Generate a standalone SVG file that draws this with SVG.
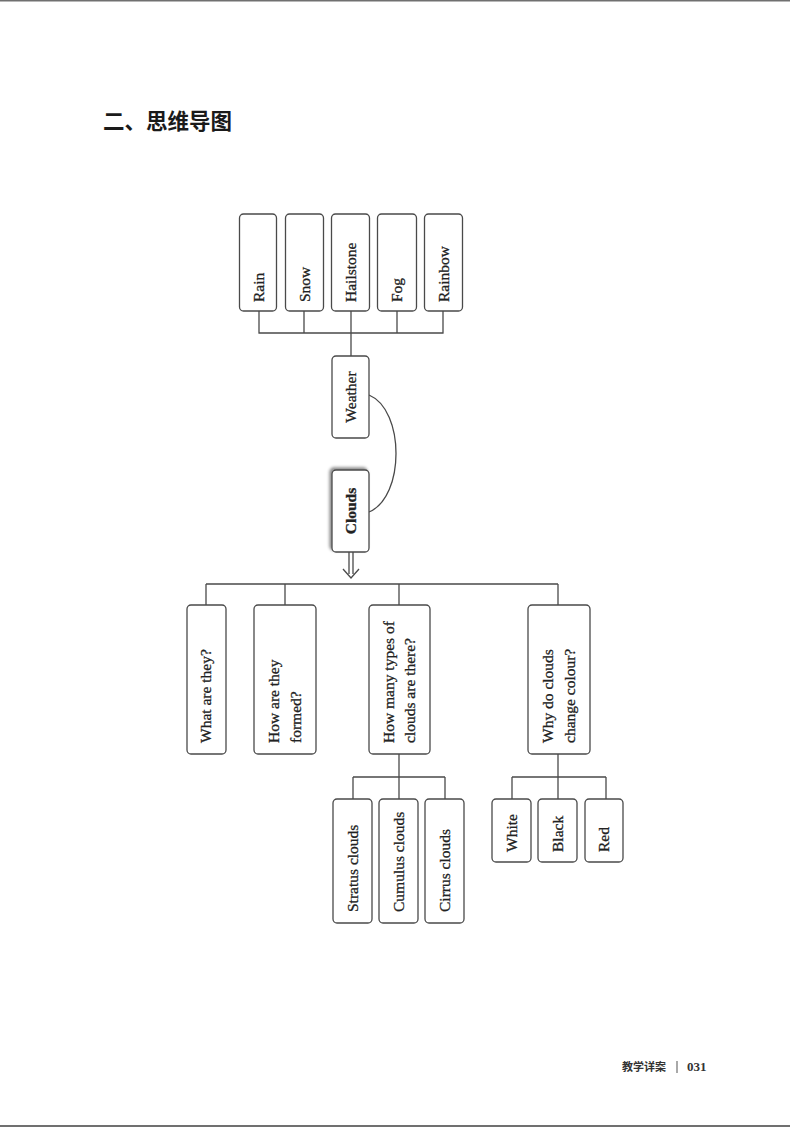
<svg xmlns="http://www.w3.org/2000/svg" width="790" height="1127" viewBox="0 0 790 1127">
<defs>
<style>
.box{fill:#fff;stroke:#4a4a4a;stroke-width:1.3}
.ln{fill:none;stroke:#4a4a4a;stroke-width:1.3}
.t{font-family:"Liberation Serif","Times New Roman",serif;font-size:15.5px;fill:#222;stroke:#222;stroke-width:0.3}
.tc{text-anchor:middle}
.b{font-weight:bold}
.title{font-family:"Noto Sans CJK SC",sans-serif;font-weight:700;font-size:21.5px;fill:#1a1a1a}
.foot{font-family:"Noto Sans CJK SC",serif;font-weight:700;font-size:11px;fill:#333}
.num{font-family:"Liberation Serif",serif;font-weight:bold;font-size:13px;fill:#333}
</style>
<filter id="sh" x="-30%" y="-30%" width="160%" height="160%">
<feDropShadow dx="-2" dy="-2" stdDeviation="1.8" flood-color="#000" flood-opacity="0.45"/>
</filter>
</defs>
<rect width="790" height="1127" fill="#fff"/>
<rect x="0" y="0" width="790" height="1.5" fill="#707070"/>
<rect x="0" y="1125" width="790" height="2" fill="#707070"/>
<text class="title" x="103" y="129">二、思维导图</text>
<text class="foot" x="622" y="1071">教学详案</text>
<rect x="676.5" y="1061" width="1" height="12" fill="#555"/>
<text class="num" x="687" y="1071">031</text>

<g id="connectors">
<path class="ln" d="M259,311V333M304,311V333M351,311V356M397,311V333M443,311V333M258.4,333H443.6"/>
<path class="ln" d="M369,395C405,410 405,497 369,512"/>
<path class="ln" d="M349,552V574M353,552V574M343,569L351,578L359,569"/>
<path class="ln" d="M206,584H558M206,584V605M285,584V605M399,584V605M558,584V605"/>
<path class="ln" d="M399,754V799M353,777H445M353,777V799M445,777V799"/>
<path class="ln" d="M558,754V799M512,777H606M512,777V799M606,777V799"/>
</g>

<g id="rain"><rect class="box" x="239.5" y="214" width="37" height="97" rx="4"/><text class="t" transform="translate(263.5,302) rotate(-90)">Rain</text></g>
<g id="snow"><rect class="box" x="285.5" y="214" width="38" height="97" rx="4"/><text class="t" transform="translate(309.5,302) rotate(-90)">Snow</text></g>
<g id="hailstone"><rect class="box" x="331.5" y="214" width="38" height="97" rx="4"/><text class="t" transform="translate(355.5,302) rotate(-90)">Hailstone</text></g>
<g id="fog"><rect class="box" x="377.5" y="214" width="39" height="97" rx="4"/><text class="t" transform="translate(402,302) rotate(-90)">Fog</text></g>
<g id="rainbow"><rect class="box" x="424.5" y="214" width="38" height="97" rx="4"/><text class="t" transform="translate(448.5,302) rotate(-90)">Rainbow</text></g>

<g id="weather"><rect class="box" x="332" y="356" width="37" height="82" rx="4"/><text class="t tc" transform="translate(355.5,397) rotate(-90)">Weather</text></g>
<g id="clouds"><rect class="box" x="332" y="470" width="37" height="82" rx="4" filter="url(#sh)"/><text class="t tc b" transform="translate(355.5,511) rotate(-90)">Clouds</text></g>

<g id="what"><rect class="box" x="187" y="605" width="39" height="149" rx="4"/><text class="t" transform="translate(211,743) rotate(-90)">What are they?</text></g>
<g id="how"><rect class="box" x="254" y="605" width="62" height="149" rx="4"/><text class="t" transform="translate(279,743) rotate(-90)">How are they</text><text class="t" transform="translate(300.5,743) rotate(-90)">formed?</text></g>
<g id="types"><rect class="box" x="369" y="605" width="61" height="149" rx="4"/><text class="t" transform="translate(393.5,743) rotate(-90)">How many types of</text><text class="t" transform="translate(415,743) rotate(-90)">clouds are there?</text></g>
<g id="why"><rect class="box" x="528" y="605" width="62" height="149" rx="4"/><text class="t" transform="translate(552.5,743) rotate(-90)">Why do clouds</text><text class="t" transform="translate(575,743) rotate(-90)">change colour?</text></g>

<g id="stratus"><rect class="box" x="333" y="799" width="39" height="124" rx="4"/><text class="t" transform="translate(357.5,912) rotate(-90)">Stratus clouds</text></g>
<g id="cumulus"><rect class="box" x="379" y="799" width="39" height="124" rx="4"/><text class="t" transform="translate(403.5,912) rotate(-90)">Cumulus clouds</text></g>
<g id="cirrus"><rect class="box" x="425" y="799" width="39" height="124" rx="4"/><text class="t" transform="translate(449.5,912) rotate(-90)">Cirrus clouds</text></g>

<g id="white"><rect class="box" x="492" y="799" width="39" height="63" rx="4"/><text class="t" transform="translate(516.5,852) rotate(-90)">White</text></g>
<g id="black"><rect class="box" x="538" y="799" width="39" height="63" rx="4"/><text class="t" transform="translate(562.5,852) rotate(-90)">Black</text></g>
<g id="red"><rect class="box" x="585" y="799" width="38" height="63" rx="4"/><text class="t" transform="translate(609,852) rotate(-90)">Red</text></g>
</svg>
